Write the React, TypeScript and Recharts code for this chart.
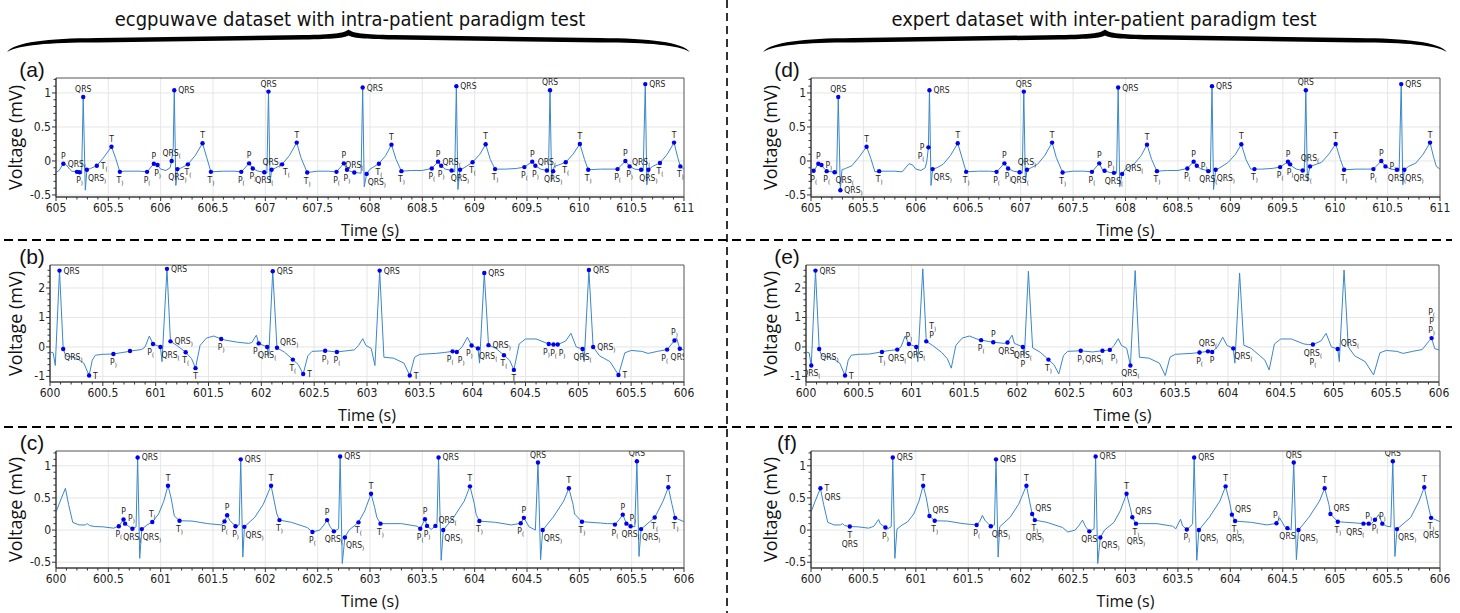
import {
  ComposedChart,
  Line,
  Scatter,
  XAxis,
  YAxis,
  CartesianGrid,
  ReferenceArea,
} from "recharts";

type Side = "top" | "bottom" | "right" | "left" | "topRight" | "bottomRight" | "bottomLeft";
type Pt = [number, number];
type Mark = [number, number, string, Side];

// ECG traces, [time (s), voltage (mV)]
const waveA: Pt[] = [
  [605.0, -0.17], [605.03, -0.14], [605.07, -0.04], [605.1, -0.06], [605.13, -0.12], [605.15, -0.15],
  [605.2, -0.16], [605.225, -0.165], [605.245, -0.19], [605.26, 0.94], [605.28, -0.43], [605.295, -0.13],
  [605.33, -0.11], [605.39, -0.07], [605.46, 0.06], [605.53, 0.21], [605.57, 0.04], [605.61, -0.16],
  [605.65, -0.15], [605.8, -0.15], [605.87, -0.16], [605.935, -0.04], [605.97, -0.06], [606.0, -0.12],
  [606.05, -0.14], [606.09, -0.1], [606.105, 0.0], [606.12, 0.2], [606.13, 1.04], [606.145, -0.36],
  [606.16, -0.12], [606.2, -0.1], [606.26, -0.05], [606.33, 0.08], [606.4, 0.26], [606.44, 0.05],
  [606.48, -0.16], [606.6, -0.15], [606.7, -0.15], [606.77, -0.16], [606.845, -0.035], [606.88, -0.11],
  [606.93, -0.15], [606.99, -0.165], [607.015, -0.18], [607.03, 1.02], [607.045, -0.32], [607.06, -0.13],
  [607.1, -0.1], [607.16, -0.05], [607.23, 0.08], [607.3, 0.27], [607.34, 0.05], [607.4, -0.17],
  [607.5, -0.15], [607.6, -0.15], [607.68, -0.16], [607.75, -0.035], [607.78, -0.13], [607.8, -0.145],
  [607.85, -0.17], [607.89, -0.175], [607.915, -0.18], [607.93, 1.08], [607.945, -0.38], [607.968, -0.19],
  [608.0, -0.12], [608.085, -0.04], [608.15, 0.08], [608.205, 0.24], [608.25, 0.02], [608.3, -0.15],
  [608.4, -0.14], [608.5, -0.14], [608.59, -0.11], [608.65, -0.01], [608.68, -0.07], [608.72, -0.12],
  [608.78, -0.14], [608.79, -0.15], [608.81, -0.16], [608.825, 1.1], [608.84, -0.42], [608.86, -0.13],
  [608.9, -0.1], [608.98, -0.02], [609.05, 0.1], [609.105, 0.245], [609.15, 0.02], [609.195, -0.12],
  [609.3, -0.12], [609.4, -0.11], [609.475, -0.09], [609.55, -0.01], [609.57, -0.05], [609.58, -0.07],
  [609.63, -0.12], [609.69, -0.14], [609.705, -0.16], [609.72, 1.04], [609.735, -0.3], [609.75, -0.15],
  [609.76, -0.08], [609.8, -0.06], [609.87, -0.02], [609.94, 0.1], [610.005, 0.25], [610.05, 0.02],
  [610.085, -0.13], [610.2, -0.12], [610.3, -0.12], [610.365, -0.12], [610.44, 0.0], [610.48, -0.08],
  [610.53, -0.12], [610.59, -0.13], [610.61, -0.15], [610.63, 1.13], [610.645, -0.35], [610.66, -0.13],
  [610.7, -0.08], [610.77, -0.03], [610.84, 0.1], [610.905, 0.27], [610.94, 0.05], [610.965, -0.08],
  [611.0, -0.12],
];

const waveB: Pt[] = [
  [600.0, -0.17], [600.03, -0.2], [600.05, -0.63], [600.09, 2.59], [600.125, -0.07], [600.15, -0.3],
  [600.25, -0.38], [600.32, -0.55], [600.37, -0.97], [600.4, -0.45], [600.43, -0.28], [600.5, -0.25],
  [600.6, -0.24], [600.7, -0.18], [600.72, -0.17], [600.757, -0.14], [600.865, -0.09], [600.9, 0.0],
  [600.94, 0.37], [600.975, 0.1], [601.045, 0.0], [601.06, -0.5], [601.107, 2.65], [601.14, 0.19],
  [601.2, 0.05], [601.284, -0.18], [601.34, -0.4], [601.377, -0.72], [601.42, 0.05], [601.48, 0.3],
  [601.55, 0.37], [601.62, 0.27], [601.66, 0.23], [601.775, 0.16], [601.88, 0.12], [601.91, 0.15],
  [601.953, 0.4], [601.975, 0.12], [602.055, 0.0], [602.07, -0.3], [602.108, 2.57], [602.148, -0.03],
  [602.22, -0.18], [602.298, -0.43], [602.35, -0.6], [602.396, -0.92], [602.44, -0.3], [602.48, -0.15],
  [602.604, -0.13], [602.715, -0.17], [602.81, -0.13], [602.88, -0.1], [602.92, 0.05], [602.96, 0.28],
  [602.99, 0.05], [603.04, -0.05], [603.075, -0.63], [603.12, 2.59], [603.16, -0.35], [603.25, -0.38],
  [603.35, -0.55], [603.405, -0.97], [603.45, -0.35], [603.5, -0.25], [603.65, -0.22], [603.73, -0.19],
  [603.81, -0.15], [603.85, -0.17], [603.9, 0.0], [603.95, 0.33], [603.99, 0.05], [604.05, -0.05],
  [604.065, -0.55], [604.11, 2.51], [604.15, 0.06], [604.22, -0.05], [604.296, -0.28], [604.35, -0.45],
  [604.39, -0.78], [604.44, 0.1], [604.5, 0.27], [604.6, 0.27], [604.72, 0.1], [604.765, 0.08],
  [604.805, 0.08], [604.88, 0.2], [604.93, 0.46], [604.98, 0.0], [605.04, -0.07], [605.055, -0.5],
  [605.1, 2.61], [605.14, 0.0], [605.2, -0.3], [605.3, -0.5], [605.38, -0.95], [605.44, -0.2],
  [605.5, -0.12], [605.6, -0.15], [605.66, -0.22], [605.75, -0.15], [605.84, -0.09], [605.91, 0.22],
  [605.93, 0.3], [605.96, -0.06], [606.0, -0.1],
];

const waveC: Pt[] = [
  [600.0, 0.28], [600.04, 0.45], [600.09, 0.65], [600.12, 0.4], [600.16, 0.12], [600.22, 0.08],
  [600.28, 0.08], [600.3, 0.1], [600.32, 0.07], [600.37, 0.055], [600.45, 0.05], [600.55, 0.03],
  [600.6, 0.06], [600.645, 0.165], [600.66, 0.1], [600.71, 0.04], [600.73, 0.02], [600.765, 0.05],
  [600.78, 1.13], [600.8, -0.44], [600.82, 0.015], [600.87, 0.08], [600.92, 0.125], [600.98, 0.25],
  [601.03, 0.45], [601.07, 0.69], [601.1, 0.5], [601.13, 0.22], [601.18, 0.145], [601.3, 0.14],
  [601.45, 0.1], [601.58, 0.08], [601.61, 0.135], [601.635, 0.23], [601.66, 0.15], [601.715, 0.06],
  [601.75, 0.08], [601.765, 1.1], [601.785, -0.42], [601.8, 0.05], [601.9, 0.2], [601.98, 0.4],
  [602.055, 0.69], [602.085, 0.45], [602.11, 0.25], [602.135, 0.155], [602.25, 0.12], [602.4, 0.04],
  [602.45, -0.03], [602.52, 0.0], [602.56, 0.08], [602.59, 0.155], [602.62, 0.05], [602.655, -0.02],
  [602.7, 0.02], [602.715, 1.145], [602.735, -0.52], [602.76, -0.115], [602.8, 0.0], [602.89, 0.12],
  [602.95, 0.3], [603.01, 0.565], [603.045, 0.35], [603.065, 0.2], [603.1, 0.1], [603.3, 0.1],
  [603.45, 0.06], [603.48, 0.02], [603.525, 0.17], [603.545, 0.065], [603.585, 0.01], [603.625, 0.065],
  [603.64, 0.1], [603.655, 1.13], [603.68, -0.47], [603.7, 0.0], [603.8, 0.2], [603.9, 0.45],
  [603.955, 0.68], [603.995, 0.42], [604.015, 0.24], [604.045, 0.14], [604.2, 0.12], [604.35, 0.08],
  [604.44, 0.105], [604.47, 0.19], [604.52, 0.05], [604.545, 0.03], [604.58, 0.0], [604.605, 1.05],
  [604.63, -0.46], [604.65, 0.0], [604.75, 0.2], [604.85, 0.45], [604.9, 0.65], [604.94, 0.4],
  [604.955, 0.25], [605.025, 0.13], [605.2, 0.11], [605.27, 0.1], [605.32, 0.1], [605.34, 0.085],
  [605.38, 0.16], [605.415, 0.24], [605.45, 0.1], [605.49, 0.06], [605.53, 0.05], [605.55, 1.07],
  [605.57, -0.41], [605.59, 0.015], [605.72, 0.195], [605.8, 0.45], [605.85, 0.665], [605.885, 0.4],
  [605.915, 0.19], [606.0, 0.13],
];

// delineation marks: [time, voltage, label(s), label side]; "(" / ")" = onset / offset
const marksA: Mark[] = [
  [605.07, -0.04, "P", "top"], [605.2, -0.16, "QRS(", "top"], [605.225, -0.165, "P)", "bottom"],
  [605.26, 0.94, "QRS", "top"], [605.295, -0.13, "QRS)", "bottomRight"], [605.39, -0.07, "T(", "right"],
  [605.53, 0.21, "T", "top"], [605.61, -0.16, "T)", "bottom"],
  [605.87, -0.16, "P(", "bottom"], [605.935, -0.04, "P", "top"], [605.97, -0.06, "P)", "bottom"],
  [606.105, 0.0, "QRS(", "top"], [606.13, 1.04, "QRS", "right"], [606.16, -0.12, "QRS)", "bottom"],
  [606.26, -0.05, "T(", "bottom"], [606.4, 0.26, "T", "top"], [606.48, -0.16, "T)", "bottom"],
  [606.77, -0.16, "P(", "bottom"], [606.845, -0.035, "P", "top"], [606.88, -0.11, "P)", "bottom"],
  [606.99, -0.165, "QRS(", "bottom"], [607.03, 1.02, "QRS", "top"], [607.06, -0.13, "QRS)", "top"],
  [607.16, -0.05, "T(", "bottomRight"], [607.3, 0.27, "T", "top"], [607.4, -0.17, "T)", "bottom"],
  [607.68, -0.16, "P(", "bottom"], [607.75, -0.035, "P", "top"], [607.78, -0.13, "P)", "bottom"],
  [607.85, -0.17, "QRS(", "top"], [607.93, 1.08, "QRS", "right"], [607.968, -0.19, "QRS)", "bottomRight"],
  [608.085, -0.04, "T(", "bottom"], [608.205, 0.24, "T", "top"], [608.3, -0.15, "T)", "bottom"],
  [608.59, -0.11, "P(", "bottom"], [608.65, -0.01, "P", "top"], [608.68, -0.07, "P)", "bottom"],
  [608.78, -0.14, "QRS(", "top"], [608.825, 1.1, "QRS", "right"], [608.86, -0.13, "QRS)", "bottom"],
  [608.98, -0.02, "T(", "bottom"], [609.105, 0.245, "T", "top"], [609.195, -0.12, "T)", "bottom"],
  [609.475, -0.09, "P(", "bottom"], [609.55, -0.01, "P", "top"], [609.58, -0.07, "P)", "bottom"],
  [609.69, -0.14, "QRS(", "top"], [609.72, 1.04, "QRS", "top"], [609.75, -0.15, "QRS)", "bottom"],
  [609.87, -0.02, "T(", "bottom"], [610.005, 0.25, "T", "top"], [610.085, -0.13, "T)", "bottom"],
  [610.365, -0.12, "P(", "bottom"], [610.44, 0.0, "P", "top"], [610.48, -0.08, "P)", "bottom"],
  [610.59, -0.13, "QRS(", "top"], [610.63, 1.13, "QRS", "right"], [610.66, -0.13, "QRS)", "bottom"],
  [610.77, -0.03, "T(", "bottom"], [610.905, 0.27, "T", "top"], [610.965, -0.08, "T)", "bottom"],
];

const marksD: Mark[] = [
  [605.025, -0.145, "P(", "bottom"], [605.07, -0.04, "P", "top"], [605.1, -0.06, "P)", "right"],
  [605.15, -0.15, "P(", "bottom"], [605.225, -0.165, "QRS(", "bottomRight"], [605.26, 0.94, "QRS", "top"],
  [605.28, -0.43, "QRS)", "right"], [605.53, 0.21, "T", "top"], [605.65, -0.15, "T)", "bottom"],
  [606.12, 0.2, "P|P(", "left"], [606.13, 1.04, "QRS", "right"], [606.16, -0.12, "QRS)", "bottomRight"],
  [606.4, 0.26, "T", "top"], [606.48, -0.16, "T)", "bottom"],
  [606.77, -0.16, "P(", "bottom"], [606.845, -0.035, "P", "top"], [606.88, -0.11, "P)", "bottom"],
  [606.99, -0.165, "QRS(", "bottom"], [607.03, 1.02, "QRS", "top"], [607.06, -0.13, "QRS)", "top"],
  [607.3, 0.27, "T", "top"], [607.4, -0.17, "T)", "bottom"],
  [607.68, -0.16, "P(", "bottom"], [607.75, -0.035, "P", "top"], [607.8, -0.145, "P)", "topRight"],
  [607.89, -0.175, "QRS(", "bottom"], [607.93, 1.08, "QRS", "right"], [607.968, -0.19, "QRS(", "topRight"],
  [608.205, 0.24, "T", "top"], [608.3, -0.15, "T)", "bottom"],
  [608.59, -0.11, "P(", "bottom"], [608.65, -0.01, "P", "top"], [608.68, -0.07, "P)", "right"],
  [608.79, -0.15, "QRS(", "bottom"], [608.825, 1.1, "QRS", "right"], [608.86, -0.13, "QRS)", "bottomRight"],
  [609.105, 0.245, "T", "top"], [609.23, -0.12, "T)", "bottom"],
  [609.475, -0.09, "P(", "bottom"], [609.55, -0.01, "P", "top"], [609.57, -0.05, "P)", "bottom"],
  [609.69, -0.14, "QRS(", "bottom"], [609.72, 1.04, "QRS", "top"], [609.76, -0.08, "QRS(", "top"],
  [610.005, 0.25, "T", "top"], [610.085, -0.13, "T)", "bottom"],
  [610.365, -0.12, "P(", "bottom"], [610.44, 0.0, "P", "top"], [610.48, -0.08, "P)", "right"],
  [610.59, -0.13, "QRS(", "bottom"], [610.63, 1.13, "QRS", "right"], [610.66, -0.13, "QRS)", "bottomRight"],
  [610.905, 0.27, "T", "top"],
];

const marksB: Mark[] = [
  [600.09, 2.59, "QRS", "right"], [600.125, -0.07, "QRS)", "bottomRight"], [600.37, -0.97, "T", "right"],
  [600.6, -0.24, "P)", "bottom"], [600.757, -0.14, "", "bottom"],
  [600.975, 0.1, "P(", "bottomLeft"], [601.045, 0.0, "QRS(", "bottomRight"], [601.107, 2.65, "QRS", "right"],
  [601.14, 0.19, "QRS)", "right"], [601.284, -0.18, "T(", "bottom"], [601.377, -0.72, "T", "bottom"],
  [601.62, 0.27, "P)", "bottom"],
  [601.975, 0.12, "P(", "bottomLeft"], [602.055, 0.0, "QRS(", "bottom"], [602.108, 2.57, "QRS", "right"],
  [602.148, -0.03, "QRS)", "topRight"], [602.298, -0.43, "T(", "bottom"], [602.396, -0.92, "T", "right"],
  [602.604, -0.13, "P)", "bottom"], [602.715, -0.17, "P(", "bottom"],
  [603.12, 2.59, "QRS", "right"], [603.405, -0.97, "T", "right"],
  [603.81, -0.15, "P(", "bottomLeft"], [603.85, -0.17, "P)", "bottomRight"], [603.99, 0.05, "P)", "bottomLeft"],
  [604.05, -0.05, "QRS(", "bottomRight"], [604.11, 2.51, "QRS", "right"], [604.15, 0.06, "QRS)", "right"],
  [604.296, -0.28, "T(", "bottom"], [604.39, -0.78, "T", "bottom"],
  [604.72, 0.1, "P)", "bottomLeft"], [604.765, 0.08, "P(", "bottom"], [604.805, 0.08, "P)", "bottomRight"],
  [605.04, -0.07, "QRS(", "bottom"], [605.1, 2.61, "QRS", "right"], [605.14, 0.0, "QRS)", "right"],
  [605.38, -0.95, "T", "right"],
  [605.84, -0.09, "P(", "bottomLeft"], [605.91, 0.22, "P)", "top"], [605.96, -0.06, "QRS)", "bottom"],
];

const marksE: Mark[] = [
  [600.05, -0.63, "QRS(", "bottom"], [600.09, 2.59, "QRS", "right"], [600.125, -0.07, "QRS)", "bottomRight"],
  [600.37, -0.97, "T", "right"], [600.72, -0.17, "T)", "bottom"], [600.865, -0.09, "QRS(", "bottom"],
  [600.975, 0.1, "P)", "top"], [601.045, 0.0, "QRS(", "bottom"], [601.14, 0.19, "T)|P", "topRight"],
  [601.66, 0.23, "P(", "bottom"], [601.775, 0.16, "P", "top"], [601.91, 0.15, "QRS(", "bottom"],
  [602.055, 0.0, "QRS(|P", "bottom"], [602.298, -0.43, "T)", "bottom"],
  [602.604, -0.13, "P)", "bottom"], [602.81, -0.13, "QRS(", "bottomLeft"], [602.88, -0.1, "P)", "bottomRight"],
  [603.075, -0.63, "QRS(", "bottom"],
  [603.73, -0.19, "P(", "bottom"], [603.81, -0.15, "QRS(", "top"], [603.85, -0.17, "P", "bottom"],
  [604.05, -0.05, "QRS(", "bottomRight"], [604.805, 0.08, "QRS(|P(", "bottom"],
  [605.04, -0.07, "QRS(", "topRight"], [605.93, 0.3, "P(|P|P)", "top"],
];

const marksC: Mark[] = [
  [600.6, 0.06, "P(", "bottom"], [600.645, 0.165, "P", "top"], [600.66, 0.1, "P)", "topRight"],
  [600.73, 0.02, "QRS(", "bottom"], [600.78, 1.13, "QRS", "right"], [600.82, 0.015, "QRS)", "bottomRight"],
  [600.92, 0.125, "T(", "top"], [601.07, 0.69, "T", "top"], [601.18, 0.145, "T)", "bottom"],
  [601.61, 0.135, "P(", "bottom"], [601.635, 0.23, "P", "top"], [601.715, 0.06, "P)", "bottom"],
  [601.765, 1.1, "QRS", "right"], [601.8, 0.05, "QRS)", "bottomRight"], [602.055, 0.69, "T", "top"],
  [602.135, 0.155, "T)", "bottom"],
  [602.45, -0.03, "P(", "bottom"], [602.59, 0.155, "P", "top"], [602.655, -0.02, "QRS(", "bottom"],
  [602.715, 1.145, "QRS", "right"], [602.76, -0.115, "QRS)", "bottomRight"], [602.89, 0.12, "T(", "bottom"],
  [603.01, 0.565, "T", "top"], [603.1, 0.1, "T)", "bottom"],
  [603.48, 0.02, "P(", "bottom"], [603.525, 0.17, "P", "top"], [603.545, 0.065, "P)", "bottom"],
  [603.625, 0.065, "QRS(", "topRight"], [603.655, 1.13, "QRS", "right"], [603.7, 0.0, "QRS)", "bottomRight"],
  [603.955, 0.68, "T", "top"], [604.045, 0.14, "T)", "bottom"],
  [604.44, 0.105, "P(", "bottom"], [604.47, 0.19, "P", "top"], [604.605, 1.05, "QRS", "top"],
  [604.65, 0.0, "QRS)", "bottomRight"], [604.9, 0.65, "T", "top"], [605.025, 0.13, "T)", "bottom"],
  [605.34, 0.085, "P(", "bottom"], [605.415, 0.24, "P", "top"], [605.45, 0.1, "P)", "topRight"],
  [605.49, 0.06, "QRS(", "bottom"], [605.55, 1.07, "QRS", "top"], [605.59, 0.015, "QRS)", "bottomRight"],
  [605.72, 0.195, "T(", "bottom"], [605.85, 0.665, "T", "top"], [605.915, 0.19, "T)", "bottom"],
];

const marksF: Mark[] = [
  [600.09, 0.65, "T|QRS", "right"], [600.37, 0.055, "T|QRS", "bottom"], [600.71, 0.04, "P)", "bottom"],
  [600.78, 1.13, "QRS", "right"], [601.07, 0.69, "T", "top"], [601.13, 0.22, "QRS", "topRight"],
  [601.18, 0.145, "T)", "bottom"],
  [601.58, 0.08, "P(", "bottom"], [601.715, 0.06, "QRS)", "bottomRight"], [601.765, 1.1, "QRS", "right"],
  [602.055, 0.69, "T", "top"], [602.11, 0.25, "QRS", "topRight"], [602.135, 0.155, "T)|QRS)", "bottom"],
  [602.655, -0.02, "QRS", "bottom"], [602.715, 1.145, "QRS", "right"], [602.76, -0.115, "QRS)", "bottomRight"],
  [603.01, 0.565, "T", "top"], [603.065, 0.2, "QRS", "topRight"], [603.1, 0.1, "T)|QRS)", "bottom"],
  [603.585, 0.01, "P)", "bottom"], [603.655, 1.13, "QRS", "right"], [603.7, 0.0, "QRS)", "bottomRight"],
  [603.955, 0.68, "T", "top"], [604.015, 0.24, "QRS", "topRight"], [604.045, 0.14, "T)|QRS)", "bottom"],
  [604.44, 0.105, "P(", "top"], [604.545, 0.03, "QRS", "bottom"], [604.605, 1.05, "QRS", "top"],
  [604.65, 0.0, "QRS)", "bottomRight"], [604.9, 0.65, "T", "top"], [604.955, 0.25, "QRS", "topRight"],
  [605.025, 0.13, "T)", "bottom"],
  [605.27, 0.1, "QRS(", "bottomLeft"], [605.32, 0.1, "P)", "top"], [605.38, 0.16, "P(", "bottom"],
  [605.45, 0.1, "P)", "top"], [605.55, 1.07, "QRS", "top"], [605.59, 0.015, "QRS)", "bottomRight"],
  [605.85, 0.665, "T", "top"], [605.915, 0.19, "T)|QRS", "bottom"],
];

const xTicks605 = [605, 605.5, 606, 606.5, 607, 607.5, 608, 608.5, 609, 609.5, 610, 610.5, 611];
const xTicks600 = [600, 600.5, 601, 601.5, 602, 602.5, 603, 603.5, 604, 604.5, 605, 605.5, 606];
const yTicksHalf = [-0.5, 0, 0.5, 1];
const yTicksUnit = [-1, 0, 1, 2];

const NARROW = "'Liberation Sans Narrow', 'Arial Narrow', 'DejaVu Sans Condensed', sans-serif";
const SANS = "'Liberation Sans', Arial, sans-serif";
const HUMANIST = "'Open Sans', 'Noto Sans', sans-serif";
const LINE_COLOR = "#3a87c9";
const DOT_COLOR = "#0000ee";
const AXIS_COLOR = "#333";

const Y_AXIS_W = 40;
const M_TOP = 10;
const M_RIGHT = 14;
const X_AXIS_H = 24;

// majors plus evenly spaced minor ticks between lo and hi
function withMinor(majors: number[], lo: number, hi: number, step: number) {
  const out = [...majors];
  const n = Math.round((hi - lo) / step);
  for (let i = 0; i <= n; i++) {
    const v = +(lo + i * step).toFixed(4);
    if (!majors.some((m) => Math.abs(m - v) < 1e-6)) out.push(v);
  }
  return out.sort((a, b) => a - b);
}

const isMajor = (majors: number[], v: number) => majors.some((m) => Math.abs(m - v) < 1e-6);

function XTick(props: any) {
  const { x, y, payload, majors } = props;
  const major = isMajor(majors, payload.value);
  return (
    <g>
      <line x1={x} x2={x} y1={y} y2={y + (major ? 4 : 2.5)} stroke={AXIS_COLOR} />
      {major && (
        <text x={x} y={y + 15} textAnchor="middle" fontSize={12} fontFamily={NARROW} fill="#222">
          {String(payload.value)}
        </text>
      )}
    </g>
  );
}

function YTick(props: any) {
  const { x, y, payload, majors } = props;
  const major = isMajor(majors, payload.value);
  return (
    <g>
      <line x1={x} x2={x - (major ? 4 : 2.5)} y1={y} y2={y} stroke={AXIS_COLOR} />
      {major && (
        <text x={x - 5} y={y + 4} textAnchor="end" fontSize={12} fontFamily={NARROW} fill="#222">
          {String(payload.value)}
        </text>
      )}
    </g>
  );
}

function LabelText({ x, y, text, anchor }: { x: number; y: number; text: string; anchor: string }) {
  const last = text.slice(-1);
  const sub = last === "(" || last === ")" ? last : "";
  const base = sub ? text.slice(0, -1) : text;
  return (
    <text x={x} y={y} textAnchor={anchor as any} fontSize={8.5} fontFamily={NARROW} fill="#222">
      {base}
      {sub && (
        <tspan fontSize={6} dy={2}>
          {sub}
        </tspan>
      )}
    </text>
  );
}

function MarkShape(props: any) {
  const { cx, cy, payload } = props;
  if (cx == null || cy == null) return null;
  const lines: string[] = payload.label ? payload.label.split("|") : [];
  const n = lines.length;
  const lh = 9;
  return (
    <g>
      <circle cx={cx} cy={cy} r={2.2} fill={DOT_COLOR} />
      {lines.map((s, i) => {
        let x = cx;
        let y = cy;
        let anchor = "middle";
        switch (payload.side as Side) {
          case "top":
            y = cy - 5 - (n - 1 - i) * lh;
            break;
          case "bottom":
            y = cy + 11 + i * lh;
            break;
          case "right":
            x = cx + 4;
            y = cy + 3 + i * lh;
            anchor = "start";
            break;
          case "left":
            x = cx - 4;
            y = cy + 3 + i * lh;
            anchor = "end";
            break;
          case "topRight":
            x = cx + 3;
            y = cy - 3 - (n - 1 - i) * lh;
            anchor = "start";
            break;
          case "bottomRight":
            x = cx + 1;
            y = cy + 11 + i * lh;
            anchor = "start";
            break;
          case "bottomLeft":
            x = cx + 1;
            y = cy + 11 + i * lh;
            anchor = "end";
            break;
        }
        return <LabelText key={i} x={x} y={y} text={s} anchor={anchor} />;
      })}
    </g>
  );
}

interface PanelSpec {
  pl: number;
  pr: number;
  pt: number;
  pb: number;
  xDomain: [number, number];
  xMajors: number[];
  yDomain: [number, number];
  yMajors: number[];
  yMinor: [number, number, number];
  wave: Pt[];
  marks: Mark[];
}

function EcgPanel({ spec }: { spec: PanelSpec }) {
  const width = Y_AXIS_W + (spec.pr - spec.pl) + M_RIGHT;
  const height = M_TOP + (spec.pb - spec.pt) + X_AXIS_H;
  const line = spec.wave.map(([t, v]) => ({ t, v }));
  const dots = spec.marks.map(([t, v, label, side]) => ({ t, v, label, side }));
  const xTicks = withMinor(spec.xMajors, spec.xDomain[0], spec.xDomain[1], 0.1);
  const yTicks = withMinor(spec.yMajors, spec.yMinor[0], spec.yMinor[1], spec.yMinor[2]);
  const [x0, x1] = spec.xDomain;
  const [y0, y1] = spec.yDomain;
  return (
    <div style={{ position: "absolute", left: spec.pl - Y_AXIS_W, top: spec.pt - M_TOP }}>
      <ComposedChart width={width} height={height} margin={{ top: M_TOP, right: M_RIGHT, bottom: 0, left: 0 }}>
        <CartesianGrid
          stroke="#e6e6e6"
          verticalValues={spec.xMajors.filter((v) => v > x0 && v < x1)}
          horizontalValues={spec.yMajors}
        />
        <XAxis
          type="number"
          dataKey="t"
          domain={spec.xDomain}
          ticks={xTicks}
          interval={0}
          tickSize={0}
          tickMargin={0}
          height={X_AXIS_H}
          allowDataOverflow
          axisLine={{ stroke: AXIS_COLOR }}
          tick={(p: any) => <XTick {...p} majors={spec.xMajors} />}
        />
        <YAxis
          type="number"
          dataKey="v"
          domain={spec.yDomain}
          ticks={yTicks}
          interval={0}
          tickSize={0}
          tickMargin={0}
          width={Y_AXIS_W}
          allowDataOverflow
          axisLine={{ stroke: AXIS_COLOR }}
          tick={(p: any) => <YTick {...p} majors={spec.yMajors} />}
        />
        <ReferenceArea x1={x0} x2={x1} y1={y0} y2={y1} fill="none" stroke="#555" ifOverflow="visible" />
        <Line
          data={line}
          dataKey="v"
          type="linear"
          stroke={LINE_COLOR}
          strokeWidth={1}
          dot={false}
          isAnimationActive={false}
        />
        <Scatter data={dots} dataKey="v" shape={(p: any) => <MarkShape {...p} />} isAnimationActive={false} />
      </ComposedChart>
    </div>
  );
}

const topRow = { pt: 78, pb: 197, yDomain: [-0.53, 1.22] as [number, number], yMajors: yTicksHalf, yMinor: [-0.5, 1.2, 0.1] as [number, number, number] };
const midRow = { pt: 265, pb: 382, yDomain: [-1.19, 2.78] as [number, number], yMajors: yTicksUnit, yMinor: [-1, 2.6, 0.2] as [number, number, number] };
const lowRow = { pt: 451, pb: 568, yDomain: [-0.59, 1.23] as [number, number], yMajors: yTicksHalf, yMinor: [-0.5, 1.2, 0.1] as [number, number, number] };

const panels: { letter: string; spec: PanelSpec }[] = [
  { letter: "(a)", spec: { ...topRow, pl: 56, pr: 684, xDomain: [605, 611], xMajors: xTicks605, wave: waveA, marks: marksA } },
  { letter: "(b)", spec: { ...midRow, pl: 50, pr: 684, xDomain: [600, 606], xMajors: xTicks600, wave: waveB, marks: marksB } },
  { letter: "(c)", spec: { ...lowRow, pl: 56, pr: 684, xDomain: [600, 606], xMajors: xTicks600, wave: waveC, marks: marksC } },
  { letter: "(d)", spec: { ...topRow, pl: 811, pr: 1440, xDomain: [605, 611], xMajors: xTicks605, wave: waveA, marks: marksD } },
  { letter: "(e)", spec: { ...midRow, pl: 806, pr: 1439, xDomain: [600, 606], xMajors: xTicks600, wave: waveB, marks: marksE } },
  { letter: "(f)", spec: { ...lowRow, pl: 811, pr: 1440, xDomain: [600, 606], xMajors: xTicks600, wave: waveC, marks: marksF } },
];

// horizontal curly brace opening downward, tip pointing up at the centre
function bracePath(x0: number, x1: number) {
  const c = (x0 + x1) / 2;
  return [
    `M ${x0} 52`,
    `C ${x0 + 8} 42, ${x0 + 40} 38.5, ${x0 + 90} 38`,
    `L ${c - 45} 35`,
    `C ${c - 15} 34.5, ${c - 5} 33.5, ${c} 29.5`,
    `C ${c + 5} 33.5, ${c + 15} 34.5, ${c + 45} 35`,
    `L ${x1 - 90} 38`,
    `C ${x1 - 40} 38.5, ${x1 - 8} 42, ${x1} 52`,
    `C ${x1 - 12} 45, ${x1 - 40} 42.5, ${x1 - 90} 42.5`,
    `L ${c + 45} 39.5`,
    `C ${c + 15} 39, ${c + 4} 38, ${c} 35.5`,
    `C ${c - 4} 38, ${c - 15} 39, ${c - 45} 39.5`,
    `L ${x0 + 90} 42.5`,
    `C ${x0 + 40} 42.5, ${x0 + 12} 45, ${x0} 52`,
    "Z",
  ].join(" ");
}

export default function App() {
  return (
    <div style={{ position: "absolute", left: 0, top: 0, width: 1460, height: 613, background: "#fff", overflow: "hidden" }}>
      {panels.map((p) => (
        <EcgPanel key={p.letter} spec={p.spec} />
      ))}
      <svg width={1460} height={613} style={{ position: "absolute", left: 0, top: 0, pointerEvents: "none" }}>
        <text x={350} y={19} textAnchor="middle" dominantBaseline="central" fontSize={20} fontFamily={NARROW} fill="#111">
          ecgpuwave dataset with intra-patient paradigm test
        </text>
        <text x={1104} y={19} textAnchor="middle" dominantBaseline="central" fontSize={20} fontFamily={NARROW} fill="#111">
          expert dataset with inter-patient paradigm test
        </text>
        <path d={bracePath(7, 690)} fill="#000" />
        <path d={bracePath(763, 1447)} fill="#000" />

        <line x1={727} x2={727} y1={0} y2={613} stroke="#000" strokeWidth={1.6} strokeDasharray="8 5" />
        <line x1={4} x2={1452} y1={240} y2={240} stroke="#000" strokeWidth={1.8} strokeDasharray="9 5" />
        <line x1={4} x2={1452} y1={427} y2={427} stroke="#000" strokeWidth={1.8} strokeDasharray="9 5" />

        {panels.map((p) => {
          const s = p.spec;
          const right = s.pl > 700;
          const letterX = right ? 787 : 32;
          const labelX = right ? 770 : 15;
          const midY = (s.pt + s.pb) / 2;
          const midX = (s.pl + s.pr) / 2;
          return (
            <g key={p.letter}>
              <text x={letterX} y={s.pt - 9} textAnchor="middle" dominantBaseline="central" fontSize={21} fontFamily={SANS} fill="#111">
                {p.letter}
              </text>
              <text
                x={labelX}
                y={midY}
                transform={`rotate(-90 ${labelX} ${midY})`}
                textAnchor="middle"
                dominantBaseline="central"
                fontSize={18}
                fontFamily={HUMANIST}
                fill="#111"
              >
                Voltage (mV)
              </text>
              <text x={midX} y={s.pb + 33} textAnchor="middle" dominantBaseline="central" fontSize={16} fontFamily={HUMANIST} fill="#111">
                Time (s)
              </text>
            </g>
          );
        })}
      </svg>
    </div>
  );
}
